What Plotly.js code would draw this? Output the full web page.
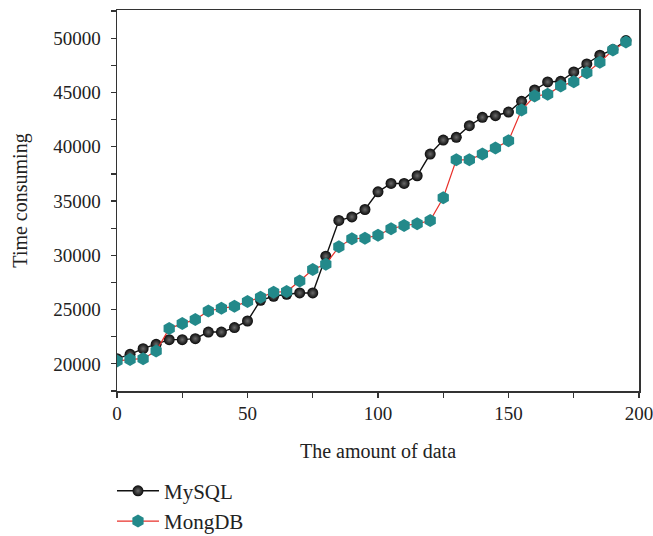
<!DOCTYPE html>
<html>
<head>
<meta charset="utf-8">
<script src="https://cdn.plot.ly/plotly-3.0.1.min.js"></script>
<style>html,body{margin:0;padding:0;background:#fff}#chart{width:653px;height:536px}</style>
</head>
<body>
<div id="chart"></div>
<script>
const amount = [0,5,10,15,20,25,30,35,40,45,50,55,60,65,70,75,80,85,90,95,100,105,110,115,120,125,130,135,140,145,150,155,160,165,170,175,180,185,190,195];
const mysql = [20480,20880,21400,21800,22230,22230,22320,22930,22930,23340,23950,25860,26230,26410,26530,26530,29920,33210,33540,34220,35850,36620,36620,37330,39330,40620,40870,41940,42710,42860,43200,44190,45230,45970,46030,46890,47630,48430,48950,49780];
const mongdb = [20260,20410,20480,21180,23250,23710,24080,24870,25120,25300,25740,26130,26600,26660,27640,28690,29180,30780,31520,31580,31850,32440,32750,32900,33210,35300,38800,38800,39330,39880,40550,43390,44680,44830,45600,46000,46830,47780,48920,49660];
const seriesNames = ["MySQL","MongDB"];
const xTicks = [0,50,100,150,200];
const yTicks = [20000,25000,30000,35000,40000,45000,50000];
const xTitle = "The amount of data";
const yTitle = "Time consuming";

const FONT = "Liberation Serif, DejaVu Serif, serif";

const traces = [
  {
    x: amount, y: mysql, name: seriesNames[0], type: "scatter", mode: "lines+markers",
    line: {color: "#111111", width: 1.4},
    marker: {symbol: "circle", size: 11, color: "#0a0a0a",
             gradient: {type: "radial", color: "#6a6a6a"},
             line: {width: 0}}
  },
  {
    x: amount, y: mongdb, name: seriesNames[1], type: "scatter", mode: "lines+markers",
    line: {color: "#e8302a", width: 1.2},
    marker: {symbol: "hexagon", size: 13, color: "#23898a", line: {width: 0}}
  }
];

const layout = {
  width: 653, height: 536,
  margin: {l: 117, r: 14, t: 10, b: 145, autoexpand: false},
  paper_bgcolor: "#fff", plot_bgcolor: "#fff",
  font: {family: FONT, size: 19, color: "#222"},
  showlegend: true,
  legend: {x: -0.0096, xanchor: "left", y: -0.209, yanchor: "top",
           font: {family: FONT, size: 21, color: "#222"},
           itemwidth: 42,
           bgcolor: "rgba(0,0,0,0)", tracegroupgap: 0},
  xaxis: {
    range: [0, 200], tickvals: xTicks, tickformat: "d",
    showgrid: false, zeroline: false,
    showline: true, linecolor: "#333", linewidth: 1.5, mirror: true,
    ticks: "outside", ticklen: 5, tickcolor: "#333", tickwidth: 1.2,
    ticklabeloverflow: "allow",
    minor: {tickvals: [25,75,125,175], ticks: "outside", ticklen: 5, tickcolor: "#333", tickwidth: 1.2},
    tickfont: {family: FONT, size: 19, color: "#222"},
    title: {text: xTitle, font: {family: FONT, size: 20, color: "#222"}, standoff: 20}
  },
  yaxis: {
    range: [17500, 52600], tickvals: yTicks, tickformat: "d",
    showgrid: false, zeroline: false,
    showline: true, linecolor: "#333", linewidth: 1.5, mirror: true,
    ticks: "outside", ticklen: 5, tickcolor: "#333", tickwidth: 1.2,
    ticklabelstandoff: 6,
    minor: {tickvals: [17500,22500,27500,32500,37500,42500,47500,52500], ticks: "outside", ticklen: 5, tickcolor: "#333", tickwidth: 1.2},
    tickfont: {family: FONT, size: 19, color: "#222"},
    title: {text: yTitle, font: {family: FONT, size: 20, color: "#222"}, standoff: 20}
  }
};

Plotly.newPlot("chart", traces, layout, {displayModeBar: false, staticPlot: true});
</script>
</body>
</html>
